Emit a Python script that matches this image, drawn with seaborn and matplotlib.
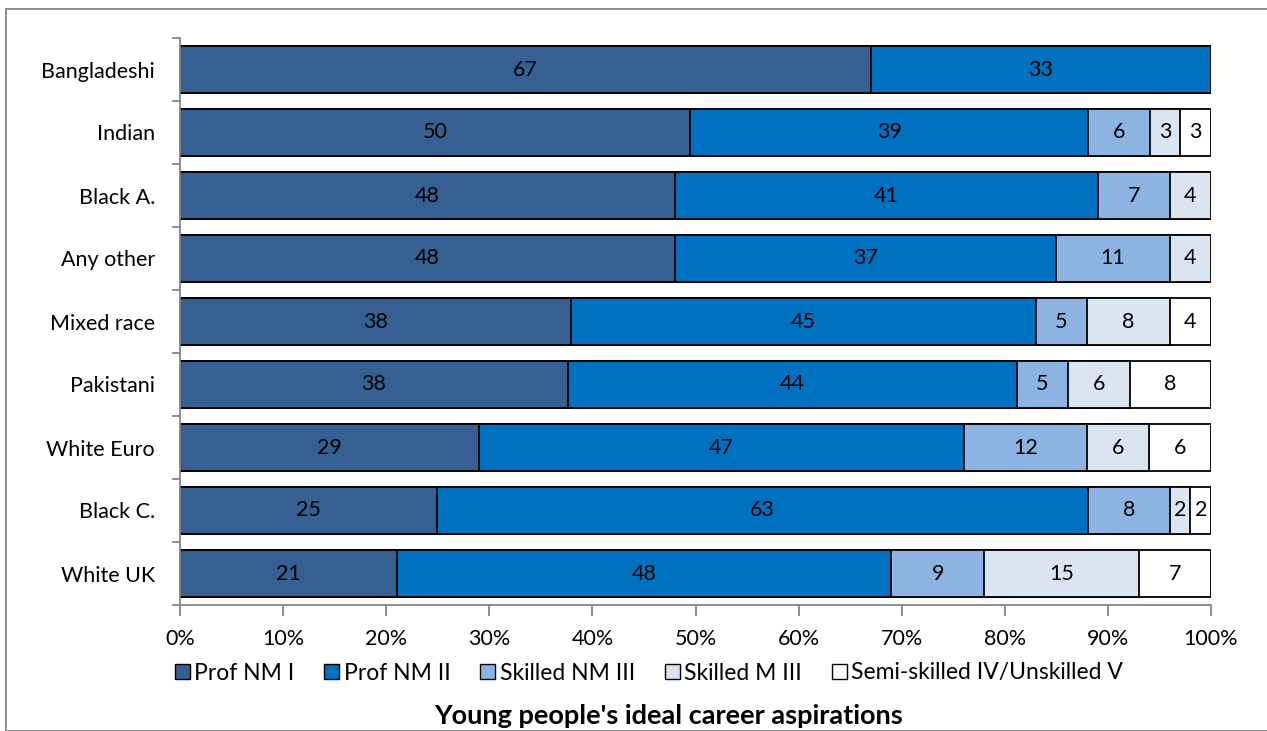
import numpy as np
import pandas as pd
import seaborn as sns
import matplotlib.pyplot as plt
from matplotlib.patches import Rectangle
from matplotlib.ticker import FixedLocator, PercentFormatter

# Data (percent of each group)
groups = ["Bangladeshi", "Indian", "Black A.", "Any other", "Mixed race",
          "Pakistani", "White Euro", "Black C.", "White UK"]
series = ["Prof NM I", "Prof NM II", "Skilled NM III", "Skilled M III",
          "Semi-skilled IV/Unskilled V"]
prof_nm_1 = [67, 49.5, 48, 48, 37.9, 37.6, 29, 24.9, 21]
prof_nm_2 = [33, 38.6, 41, 37, 45.1, 43.6, 47, 63.2, 48]
skilled_nm_3 = [0, 6, 7, 11, 5, 4.9, 12, 7.9, 9]
skilled_m_3 = [0, 2.9, 4, 4, 8, 6, 6, 2, 15]
semi_unskilled = [0, 3, 0, 0, 4, 7.9, 6, 2, 7]
labels = [[67, 33], [50, 39, 6, 3, 3], [48, 41, 7, 4], [48, 37, 11, 4],
          [38, 45, 5, 8, 4], [38, 44, 5, 6, 8], [29, 47, 12, 6, 6],
          [25, 63, 8, 2, 2], [21, 48, 9, 15, 7]]

colors = ["#376092", "#0070C0", "#8DB3E2", "#DBE5F1", "#FFFFFF"]

df = pd.DataFrame({"group": groups, series[0]: prof_nm_1, series[1]: prof_nm_2,
                   series[2]: skilled_nm_3, series[3]: skilled_m_3,
                   series[4]: semi_unskilled})
cum = df[series].cumsum(axis=1)

plt.rcParams['font.family'] = ['Lato', 'DejaVu Sans']
fig = plt.figure(figsize=(12.67, 7.31), dpi=100)
ax = fig.add_axes([180 / 1267, 1 - 605 / 731, (1211 - 180) / 1267, 567 / 731])

# stacked bars: draw cumulative totals from the outermost series inwards
for s, c in reversed(list(zip(series, colors))):
    sns.barplot(x=cum[s], y=df["group"], color=c, orient="h", width=0.75,
                edgecolor="black", linewidth=1.3, saturation=1, ax=ax)

# segment labels
for i, g in enumerate(groups):
    vals = df.loc[i, series].values
    left = 0
    k = 0
    for v in vals:
        if v > 0:
            ax.text(left + v / 2, i, str(labels[i][k]), ha="center", va="center",
                    fontsize=15.5, color="black")
            k += 1
        left += v

ax.set_xlim(0, 100)
ax.set_ylim(len(groups) - 0.5, -0.5)
ax.xaxis.set_major_locator(FixedLocator(np.arange(0, 101, 10)))
ax.xaxis.set_major_formatter(PercentFormatter(decimals=0))
ax.yaxis.set_minor_locator(FixedLocator(np.arange(-0.5, len(groups), 1)))
ax.tick_params(axis="y", which="major", length=0, pad=18, labelsize=15.5)
ax.tick_params(axis="y", which="minor", length=6, color="#868686", width=1.3)
ax.tick_params(axis="x", length=8, color="#868686", width=1.3, pad=9, labelsize=15.5)
for side in ["top", "right"]:
    ax.spines[side].set_visible(False)
for side in ["left", "bottom"]:
    ax.spines[side].set_color("#868686")
    ax.spines[side].set_linewidth(1.3)
ax.set_xlabel("")
ax.set_ylabel("")

handles = [Rectangle((0, 0), 1, 1, facecolor=c, edgecolor="black", linewidth=1)
           for c in colors]
fig.legend(handles, series, loc="center", bbox_to_anchor=(649 / 1267, 1 - 673 / 731),
           ncol=5, frameon=False, fontsize=16.5, handlelength=0.65, handleheight=0.65,
           handletextpad=0.2, columnspacing=1.3)
fig.text(669 / 1267, 1 - 716 / 731, "Young people's ideal career aspirations",
         ha="center", va="center", fontsize=19.5, fontweight="bold")

# outer chart border
fig.patches.append(Rectangle((6 / 1267, 0), 1, 1 - 9 / 731, transform=fig.transFigure,
                             fill=False, edgecolor="#868686", linewidth=1.3))

fig.savefig("out.png", dpi=100)
